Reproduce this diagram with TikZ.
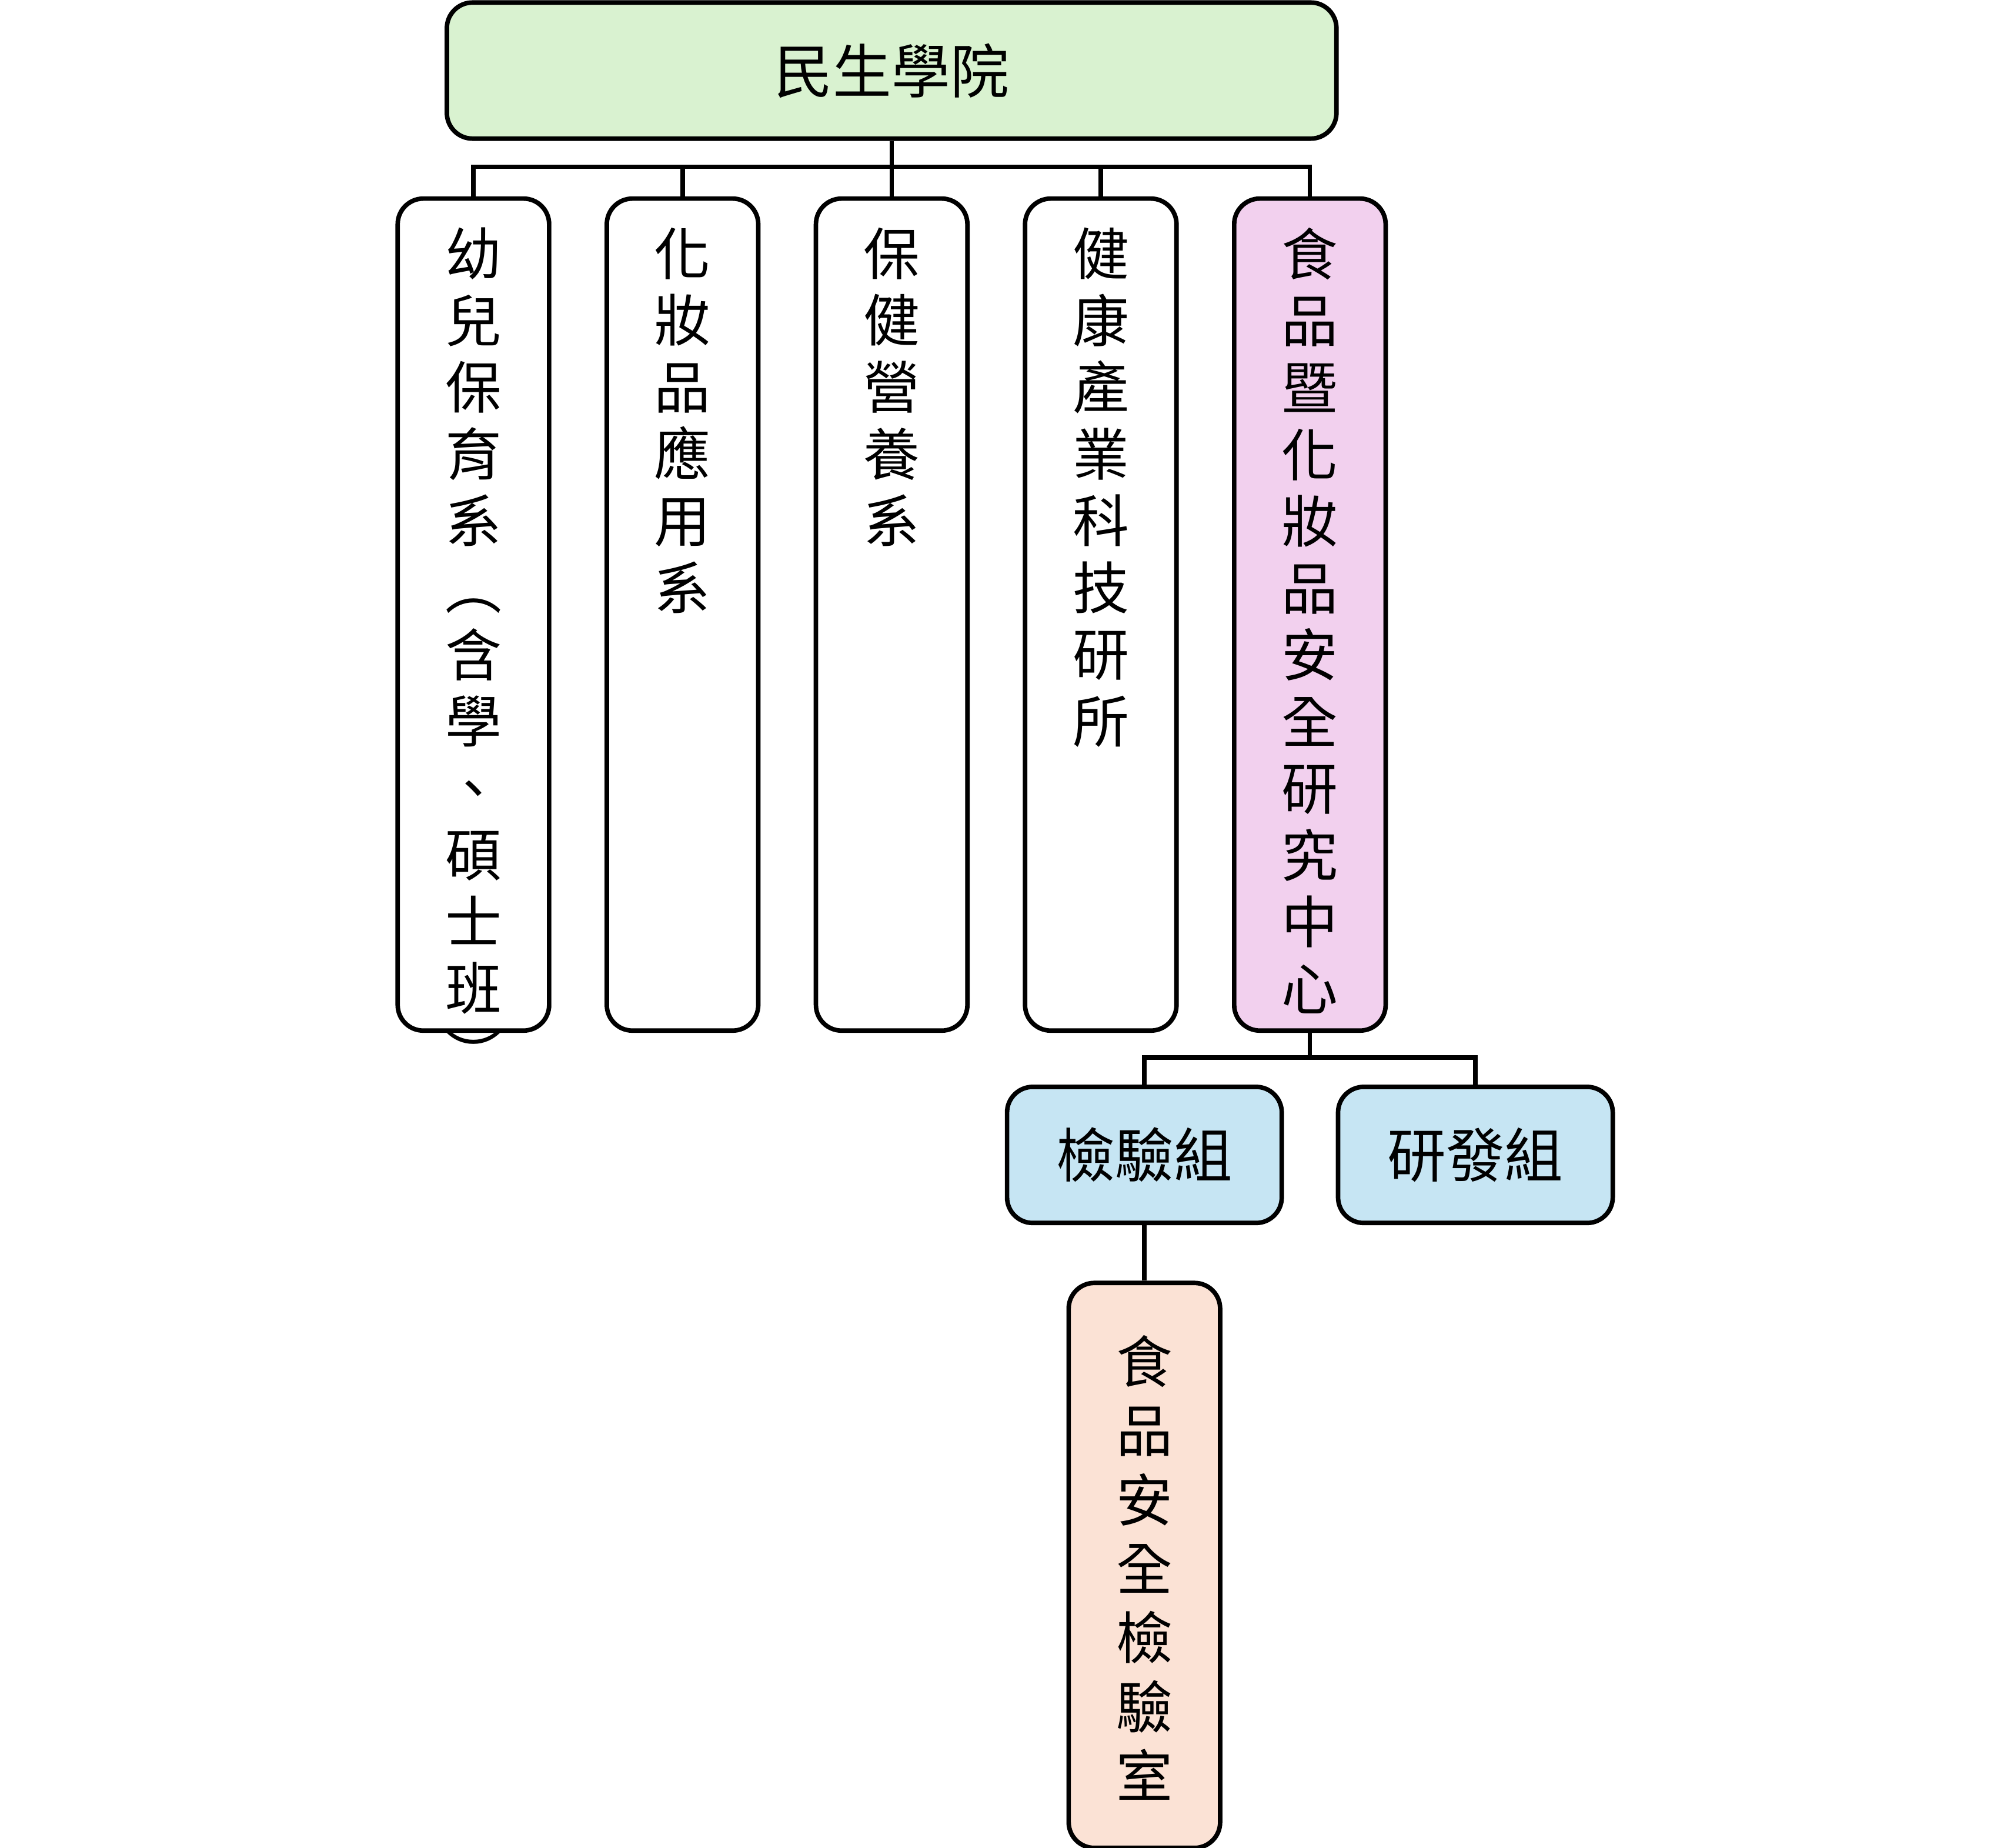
\documentclass[tikz,border=0pt]{standalone}
\usepackage{fontspec}
\setmainfont{Noto Sans CJK TC}
\begin{document}
\begin{tikzpicture}[x=0.01cm,y=-0.01cm,
  box/.style={draw,line width=1pt,rounded corners=0.2cm,inner sep=0pt},
  vtext/.style={anchor=north,align=center,font=\fontsize{12.5}{14.8}\selectfont},
  link/.style={line width=1pt}]
\useasboundingbox (0,0) rectangle (1562,1440);
\definecolor{top}{HTML}{D9F2D0}
\definecolor{pink}{HTML}{F2D0EE}
\definecolor{blue}{HTML}{C6E5F3}
\definecolor{peach}{HTML}{FBE2D5}

\node[box,fill=top,minimum width=6.93cm,minimum height=1.06cm,font=\fontsize{13}{15}\selectfont] (college) at (695,55) {民生學院};

\node[box,minimum width=1.18cm,minimum height=6.48cm,anchor=north] (d1) at (369,153) {};
\node[box,minimum width=1.18cm,minimum height=6.48cm,anchor=north] (d2) at (532,153) {};
\node[box,minimum width=1.18cm,minimum height=6.48cm,anchor=north] (d3) at (695,153) {};
\node[box,minimum width=1.18cm,minimum height=6.48cm,anchor=north] (d4) at (858,153) {};
\node[box,fill=pink,minimum width=1.18cm,minimum height=6.48cm,anchor=north] (d5) at (1021,153) {};

\node[vtext] at ([yshift=-0.12cm]d1.north) {幼\\兒\\保\\育\\系\\︵\\含\\學\\、\\碩\\士\\班\\︶};
\node[vtext] at ([yshift=-0.12cm]d2.north) {化\\妝\\品\\應\\用\\系};
\node[vtext] at ([yshift=-0.12cm]d3.north) {保\\健\\營\\養\\系};
\node[vtext] at ([yshift=-0.12cm]d4.north) {健\\康\\產\\業\\科\\技\\研\\所};
\node[vtext] at ([yshift=-0.12cm]d5.north) {食\\品\\暨\\化\\妝\\品\\安\\全\\研\\究\\中\\心};

\coordinate (bus) at (695,130);
\draw[link] (college.south) -- (bus);
\draw[link] (d1.north) |- (bus) -| (d5.north);
\draw[link] (d2.north) -- (d2.north |- bus);
\draw[link] (d3.north) -- (d3.north |- bus);
\draw[link] (d4.north) -- (d4.north |- bus);

\node[box,fill=blue,minimum width=2.14cm,minimum height=1.06cm,font=\fontsize{13}{15}\selectfont] (test) at (892,900) {檢驗組};
\node[box,fill=blue,minimum width=2.14cm,minimum height=1.06cm,font=\fontsize{13}{15}\selectfont] (rd) at (1150,900) {研發組};
\coordinate (bus2) at (1021,824);
\draw[link] (d5.south) -- (bus2);
\draw[link] (test.north) |- (bus2) -| (rd.north);

\node[box,fill=peach,minimum width=1.18cm,minimum height=4.4cm,anchor=north] (lab) at (892,998) {};
\node[vtext,font=\fontsize{12.5}{15.3}\selectfont] at ([yshift=-0.3cm]lab.north) {食\\品\\安\\全\\檢\\驗\\室};
\draw[link] (test.south) -- (lab.north);
\end{tikzpicture}
\end{document}
